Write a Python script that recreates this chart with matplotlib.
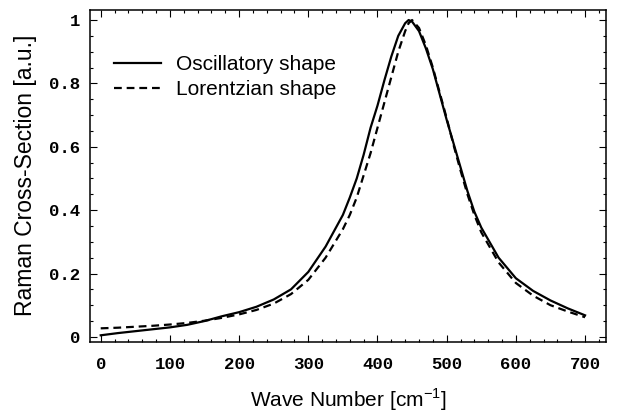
import matplotlib
matplotlib.use("Agg")
import matplotlib.pyplot as plt
from matplotlib.ticker import MultipleLocator

# Wave number grid [cm^-1] and the two curves
wave = [0, 25, 50, 75, 100, 125, 150, 175, 200, 225, 250, 275, 300, 325,
        350, 360, 370, 380, 390, 400, 410, 420, 430, 440, 445, 450, 460,
        470, 480, 490, 500, 510, 520, 530, 540, 550, 575, 600, 625, 650,
        675, 700]

oscillatory = [0.005, 0.012, 0.018, 0.024, 0.030, 0.038, 0.050, 0.065,
               0.078, 0.095, 0.118, 0.150, 0.205, 0.285, 0.385, 0.44,
               0.50, 0.575, 0.66, 0.73, 0.81, 0.885, 0.95, 0.99, 1.0,
               0.995, 0.965, 0.91, 0.845, 0.765, 0.685, 0.61, 0.535, 0.46,
               0.395, 0.345, 0.25, 0.185, 0.145, 0.115, 0.09, 0.068]

lorentzian = [0.027, 0.029, 0.032, 0.035, 0.039, 0.044, 0.051, 0.060,
              0.071, 0.085, 0.105, 0.135, 0.18, 0.25, 0.34, 0.385, 0.44,
              0.51, 0.58, 0.66, 0.74, 0.82, 0.90, 0.965, 0.99, 1.0, 0.975,
              0.92, 0.85, 0.77, 0.69, 0.605, 0.525, 0.45, 0.385, 0.33,
              0.235, 0.17, 0.13, 0.10, 0.08, 0.062]

x_ticks = [0, 100, 200, 300, 400, 500, 600, 700]
y_ticks = [0, 0.2, 0.4, 0.6, 0.8, 1.0]
y_tick_labels = ["0", "0.2", "0.4", "0.6", "0.8", "1"]

fig = plt.figure(figsize=(6.22, 4.16), dpi=100)
ax = fig.add_axes([0.1447, 0.178, 0.8293, 0.799])

ax.plot(wave, oscillatory, color="black", lw=1.6, label="Oscillatory shape")
ax.plot(wave, lorentzian, color="black", lw=1.6, dashes=(3.5, 2.2),
        label="Lorentzian shape")

ax.set_xlim(-15.5, 730)
ax.set_ylim(-0.016, 1.033)

# Mathematica-style frame: ticks inside on every side
ax.set_xticks(x_ticks)
ax.set_xticklabels([str(t) for t in x_ticks])
ax.set_yticks(y_ticks)
ax.set_yticklabels(y_tick_labels)
ax.xaxis.set_minor_locator(MultipleLocator(20))
ax.yaxis.set_minor_locator(MultipleLocator(0.05))
ax.tick_params(which="both", direction="in", top=True, right=True,
               width=0.8, color="black")
ax.tick_params(which="major", length=5)
ax.tick_params(which="minor", length=2.5)
ax.tick_params(axis="x", pad=11)
ax.tick_params(axis="y", pad=7)
for lab in ax.get_xticklabels() + ax.get_yticklabels():
    lab.set_family("Liberation Mono")
    lab.set_fontsize(12.5)
    lab.set_fontweight("bold")

for sp in ax.spines.values():
    sp.set_linewidth(1.1)

ax.set_xlabel("Wave Number [cm$^{\\mathregular{-1}}$]", family="Liberation Sans",
              fontsize=15, labelpad=10)
ax.set_ylabel("Raman Cross-Section [a.u.]", family="Liberation Sans",
              fontsize=16.5, labelpad=9)

leg = ax.legend(loc="upper left", bbox_to_anchor=(0.01, 0.92), frameon=False,
                prop={"family": "Liberation Sans", "size": 15},
                handlelength=2.25, handletextpad=0.72, labelspacing=0.3)

fig.savefig("out.png", dpi=100)
